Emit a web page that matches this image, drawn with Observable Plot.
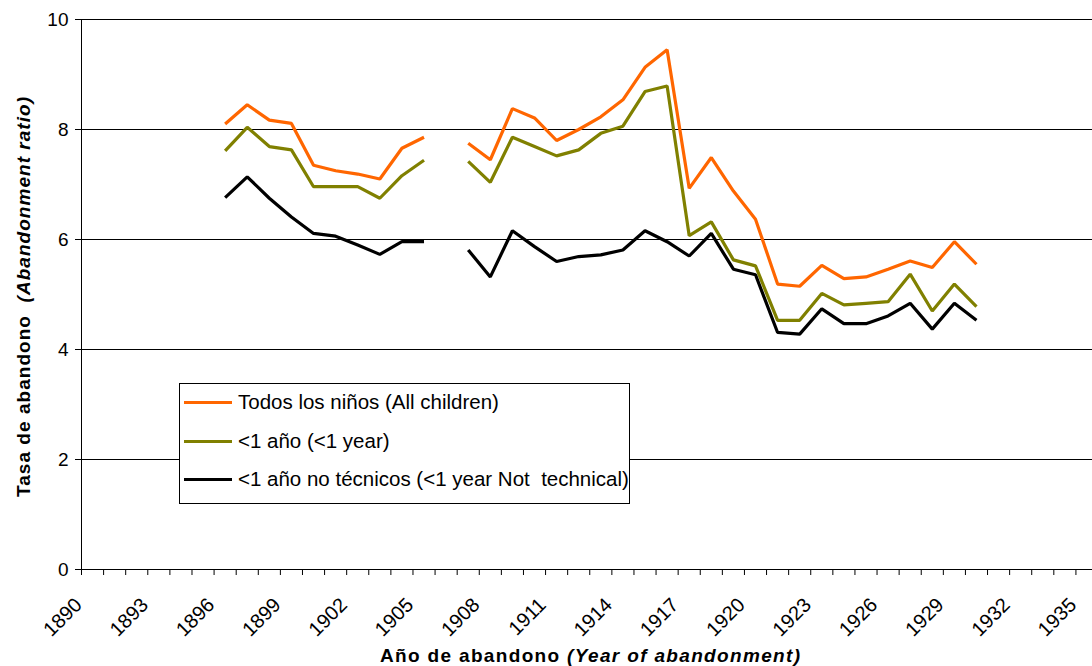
<!DOCTYPE html>
<html><head><meta charset="utf-8">
<script src="https://cdn.jsdelivr.net/npm/d3@7"></script>
<script src="https://cdn.jsdelivr.net/npm/@observablehq/plot@0.6"></script>
<style>
body{margin:0;background:#fff;font-family:"Liberation Sans",Arial,sans-serif;}
#wrap{position:relative;width:1092px;height:666px;overflow:hidden;}
#legend{position:absolute;left:179px;top:383px;width:449px;height:119px;border:1px solid #000;background:#fff;font-size:20.5px;color:#000;}
.row{position:absolute;left:4px;height:24px;display:flex;align-items:center;white-space:pre;}
.sw{width:48px;height:3px;margin-right:6px;}
</style></head><body><div id="wrap"></div>
<script>
// Categories (years) and series values
const years = [1896,1897,1898,1899,1900,1901,1902,1903,1904,1905,1906,1907,1908,1909,1910,1911,1912,1913,1914,1915,1916,1917,1918,1919,1920,1921,1922,1923,1924,1925,1926,1927,1928,1929,1930];
const todos = [8.10,8.45,8.17,8.11,7.35,7.25,7.19,7.10,7.66,7.86,null,7.75,7.45,8.38,8.21,7.80,8.00,8.23,8.54,9.13,9.45,6.93,7.49,6.88,6.37,5.19,5.15,5.53,5.29,5.32,5.46,5.61,5.49,5.96,5.55];
const menos1 = [7.61,8.04,7.69,7.63,6.96,6.96,6.96,6.75,7.16,7.44,null,7.42,7.04,7.86,7.69,7.52,7.63,7.93,8.06,8.69,8.79,6.07,6.32,5.63,5.52,4.53,4.53,5.02,4.81,4.84,4.87,5.37,4.70,5.19,4.78];
const noTecnicos = [6.76,7.14,6.75,6.41,6.11,6.06,5.90,5.73,5.96,5.96,null,5.81,5.32,6.16,5.87,5.60,5.69,5.72,5.81,6.16,5.96,5.70,6.11,5.46,5.36,4.31,4.28,4.74,4.47,4.47,4.61,4.84,4.37,4.84,4.53];
const seriesNames = ["Todos los niños (All children)", "<1 año (<1 year)", "<1 año no técnicos (<1 year Not  technical)"];
const seriesColors = ["#FF6600", "#808000", "#000000"];
const yTicks = [0, 2, 4, 6, 8, 10];
const xLabelYears = [1890,1893,1896,1899,1902,1905,1908,1911,1914,1917,1920,1923,1926,1929,1932,1935];
const categoryYears = [1890,1891,1892,1893,1894,1895,1896,1897,1898,1899,1900,1901,1902,1903,1904,1905,1906,1907,1908,1909,1910,1911,1912,1913,1914,1915,1916,1917,1918,1919,1920,1921,1922,1923,1924,1925,1926,1927,1928,1929,1930,1931,1932,1933,1934,1935];

const seriesValues = [todos, menos1, noTecnicos];
const rows = [];
seriesValues.forEach((vals, s) => years.forEach((yr, i) => rows.push({year: yr, value: vals[i], series: seriesNames[s]})));
// tick marks sit on category boundaries (between tick marks)
const boundaries = categoryYears.map(y => y - 0.5);

const chart = Plot.plot({
  width: 1092,
  height: 666,
  marginLeft: 81,
  marginRight: 0,
  marginTop: 19,
  marginBottom: 97,
  style: {fontFamily: "'Liberation Sans', Arial, sans-serif", fontSize: "19px", color: "#000", background: "#fff"},
  x: {domain: [1889.5, 1935.25]},
  y: {domain: [0, 10]},
  color: {domain: seriesNames, range: seriesColors},
  marks: [
    Plot.ruleY(yTicks.filter(d => d > 0), {stroke: "#000", strokeWidth: 1}),
    Plot.axisY({ticks: yTicks, tickSize: 6, tickPadding: 7, label: null, fontSize: 19}),
    Plot.axisX({ticks: boundaries, tickSize: 6, tickFormat: () => "", label: null}),
    Plot.text(xLabelYears, {x: d => d, y: 0, text: d => String(d), rotate: -45, textAnchor: "end", lineAnchor: "middle", dx: -14, dy: 32, fontSize: 20}),
    Plot.line(rows, {x: "year", y: "value", z: "series", stroke: "series", strokeWidth: 3.2, strokeLinejoin: "miter", strokeLinecap: "butt"}),
    Plot.ruleY([0], {stroke: "#000", strokeWidth: 1}),
    Plot.ruleX([1889.5], {stroke: "#000", strokeWidth: 1})
  ]
});

const wrap = document.getElementById("wrap");
wrap.appendChild(chart);

// Axis titles with mixed roman/italic parts
const svg = d3.select(chart);
const xt = svg.append("text").attr("x", 590).attr("y", 662).attr("text-anchor", "middle")
  .attr("font-weight", "bold").attr("font-size", 19).attr("fill", "#000")
  .attr("textLength", 420).attr("lengthAdjust", "spacing");
xt.append("tspan").text("Año de abandono ");
xt.append("tspan").attr("font-style", "italic").text("(Year of abandonment)");
const yt = svg.append("text").attr("transform", "translate(30,297) rotate(-90)").attr("text-anchor", "middle")
  .attr("font-weight", "bold").attr("font-size", 19).attr("fill", "#000")
  .attr("textLength", 400).attr("lengthAdjust", "spacing");
yt.append("tspan").text("Tasa de abandono  ");
yt.append("tspan").attr("font-style", "italic").text("(Abandonment ratio)");

// Legend
const legend = document.createElement("div");
legend.id = "legend";
const rowTops = [6, 45, 83];
seriesNames.forEach((name, i) => {
  const r = document.createElement("div");
  r.className = "row";
  r.style.top = rowTops[i] + "px";
  const sw = document.createElement("div");
  sw.className = "sw";
  sw.style.background = seriesColors[i];
  const t = document.createElement("span");
  t.textContent = name;
  r.appendChild(sw); r.appendChild(t);
  legend.appendChild(r);
});
wrap.appendChild(legend);
</script>
</body></html>
